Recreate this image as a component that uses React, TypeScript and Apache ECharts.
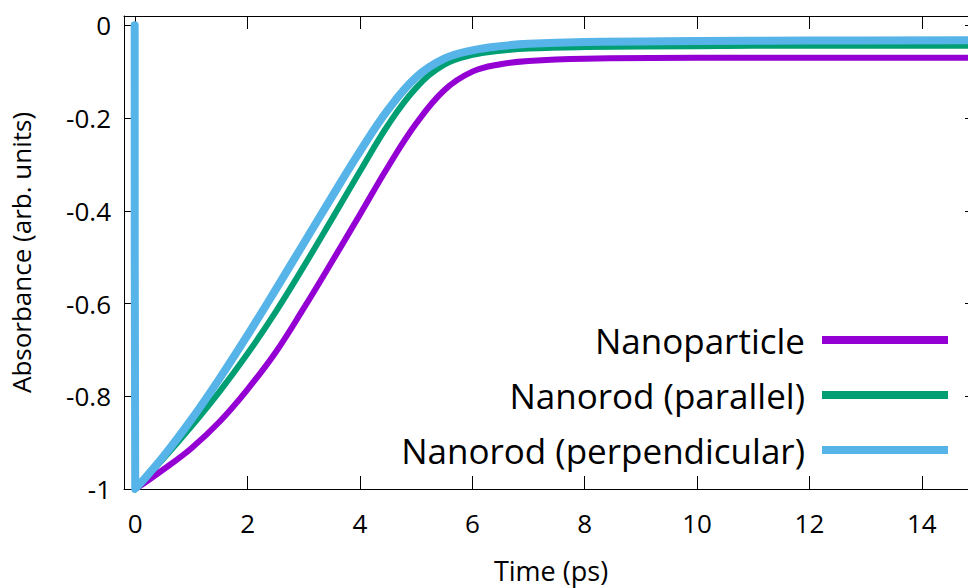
import React, { useEffect, useRef } from "react";
import * as echarts from "echarts";

const timePs = [-0.01, 0, 0.5, 1, 1.5, 2, 2.5, 3, 3.5, 4, 4.5, 5, 5.5, 6, 6.5, 7, 8, 10, 12, 15];
const nanoparticle = [0, -1, -0.958, -0.912, -0.855, -0.785, -0.705, -0.61, -0.51, -0.408, -0.305, -0.212, -0.14, -0.1, -0.084, -0.077, -0.072, -0.07, -0.07, -0.07];
const nanorodParallel = [0, -1, -0.935, -0.865, -0.79, -0.708, -0.618, -0.52, -0.418, -0.315, -0.215, -0.135, -0.085, -0.064, -0.055, -0.05, -0.047, -0.045, -0.044, -0.044];
const nanorodPerpendicular = [0, -1, -0.93, -0.85, -0.762, -0.668, -0.57, -0.47, -0.37, -0.272, -0.182, -0.112, -0.072, -0.054, -0.045, -0.04, -0.036, -0.034, -0.033, -0.032];

const seriesNames = ["Nanoparticle", "Nanorod (parallel)", "Nanorod (perpendicular)"];
const seriesColors = ["#9400D3", "#009E73", "#56B4E9"];
const seriesWidths = [6, 6, 8];

const xTicks = [0, 2, 4, 6, 8, 10, 12, 14];
const yTicks = [-1, -0.8, -0.6, -0.4, -0.2, 0];

const FONT = "'Open Sans', 'Noto Sans', sans-serif";

export default function App() {
  const ref = useRef<HTMLDivElement>(null);
  useEffect(() => {
    if (!ref.current) return;
    const chart = echarts.init(ref.current, null, { renderer: "svg" });
    const values = [nanoparticle, nanorodParallel, nanorodPerpendicular];
    const axisLine = { show: true, onZero: false, lineStyle: { color: "#000", width: 1 } };
    const xBase = {
      type: "value",
      min: -0.2,
      max: 15,
      axisLine,
      splitLine: { show: false },
      axisTick: { show: true, inside: true, length: 13, customValues: xTicks, lineStyle: { color: "#000", width: 1 } },
    };
    const yBase = {
      type: "value",
      min: -1,
      max: 0.02,
      axisLine,
      splitLine: { show: false },
      axisTick: { show: true, inside: true, length: 13, customValues: yTicks, lineStyle: { color: "#000", width: 1 } },
    };
    chart.setOption({
      animation: false,
      backgroundColor: "#fff",
      grid: { left: 124, top: 16, bottom: 99, right: -10, containLabel: false, outerBoundsMode: "none" },
      xAxis: [
        {
          ...xBase,
          position: "bottom",
          name: "Time (ps)",
          nameLocation: "middle",
          nameGap: 68,
          nameTextStyle: { fontFamily: FONT, fontSize: 27, color: "#000" },
          axisLabel: { show: true, customValues: xTicks, margin: 21, fontFamily: FONT, fontSize: 26, color: "#000" },
        },
        { ...xBase, position: "top", axisLabel: { show: false } },
      ],
      yAxis: [
        {
          ...yBase,
          position: "left",
          name: "Absorbance (arb. units)",
          nameLocation: "middle",
          nameGap: 90,
          nameTextStyle: { fontFamily: FONT, fontSize: 26, color: "#000" },
          axisLabel: { show: true, customValues: yTicks, margin: 13, fontFamily: FONT, fontSize: 26, color: "#000" },
        },
        { ...yBase, position: "right", axisLabel: { show: false } },
      ],
      legend: {
        orient: "vertical",
        align: "right",
        right: 20,
        top: 320,
        padding: 0,
        itemWidth: 126,
        itemHeight: 8,
        itemGap: 15,
        icon: "rect",
        selectedMode: false,
        textStyle: { fontFamily: FONT, fontSize: 35, color: "#000", lineHeight: 40, padding: [0, 12, 0, 0] },
        data: seriesNames,
      },
      series: seriesNames.map((name, i) => ({
        name,
        type: "line",
        xAxisIndex: 0,
        yAxisIndex: 0,
        data: timePs.map((t, k) => [t, values[i][k]]),
        showSymbol: false,
        symbol: "none",
        smooth: 0.4,
        color: seriesColors[i],
        lineStyle: { color: seriesColors[i], width: seriesWidths[i], cap: "round", join: "round" },
        itemStyle: { color: seriesColors[i] },
      })),
    });
    return () => chart.dispose();
  }, []);
  return (
    <div style={{ position: "absolute", left: 0, top: 0, width: 968, height: 588, overflow: "hidden", background: "#fff" }}>
      <div ref={ref} style={{ width: 968, height: 588 }} />
    </div>
  );
}
